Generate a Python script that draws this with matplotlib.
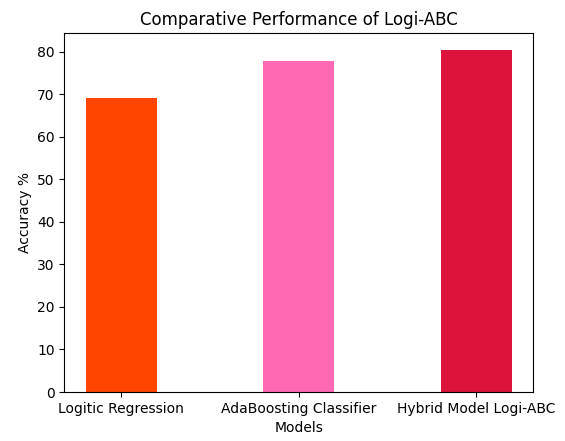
import numpy as np
import matplotlib
matplotlib.use("Agg")
import matplotlib.pyplot as plt

models = ["Logitic Regression", "AdaBoosting Classifier", "Hybrid Model Logi-ABC"]
accuracy = [69.2, 77.7, 80.3]
colors = ["orangered", "hotpink", "crimson"]

fig = plt.figure(figsize=(5.65, 4.41), dpi=100)
ax = fig.add_axes([0.114, 0.111, 0.829, 0.8135])

ax.bar(models, accuracy, color=colors, width=0.4)

ax.set_xlabel("Models")
ax.set_ylabel("Accuracy %")
ax.set_title("Comparative Performance of Logi-ABC")

fig.savefig("out.png", dpi=100)
